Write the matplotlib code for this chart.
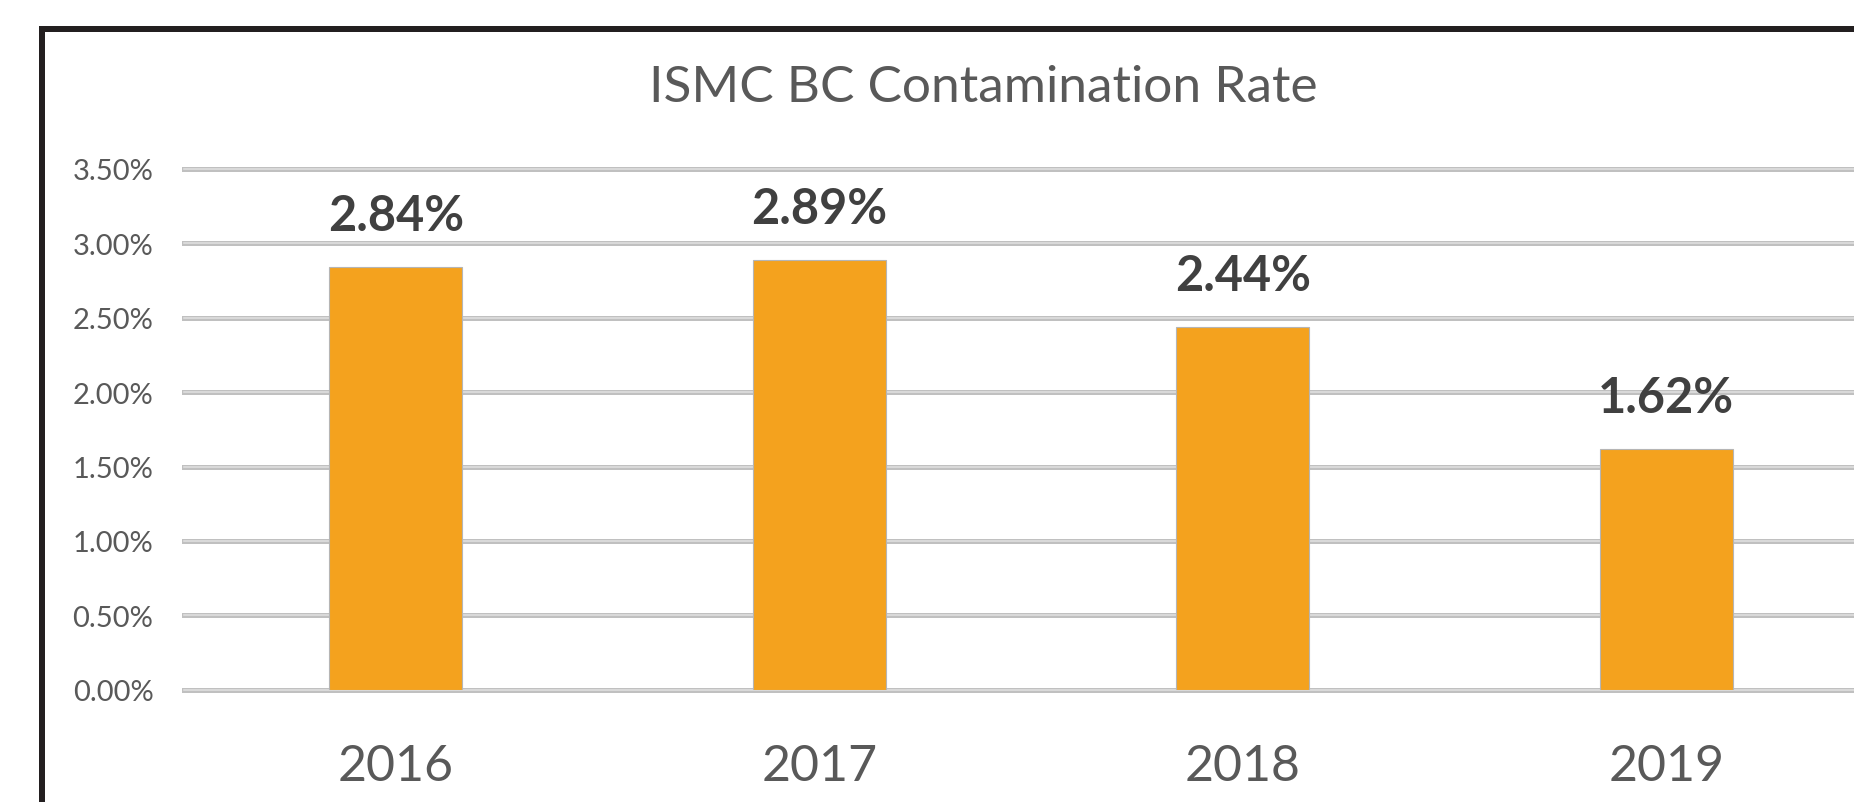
import matplotlib
matplotlib.use("Agg")
import matplotlib.pyplot as plt
from matplotlib.patches import Rectangle
from matplotlib.ticker import FuncFormatter
import numpy as np

# ---- data ----
years = ["2016", "2017", "2018", "2019"]
rates = [2.84, 2.89, 2.44, 1.62]
yticks = [0.0, 0.5, 1.0, 1.5, 2.0, 2.5, 3.0, 3.5]
title = "ISMC BC Contamination Rate"

W, H = 1854, 803
DPI = 100
fig = plt.figure(figsize=(W / DPI, H / DPI), dpi=DPI)
fig.patch.set_facecolor("white")

FONT = "Lato"
plt.rcParams["font.family"] = [FONT, "DejaVu Sans"]

# chart frame (extends beyond right and bottom edges)
frame = Rectangle((42 / W, -0.2), 1.5, (H - 30) / H + 0.2, transform=fig.transFigure,
                  fill=False, edgecolor="#231f20", linewidth=6 * 0.72, zorder=0)
fig.patches.append(frame)

# axes placement (px)
left_px, right_px = 184, 184 + 4 * 423.5
bottom_px, top_px = 690.7, 170
ax = fig.add_axes([left_px / W, (H - bottom_px) / H,
                   (right_px - left_px) / W, (bottom_px - top_px) / H])
ax.set_facecolor("none")

x = np.arange(len(years))
ax.set_xlim(-0.5, 3.5)
ax.set_ylim(0, 3.5)

# gridlines (double look)
for t in yticks:
    ax.axhline(t, color="#c0c0c0", linewidth=5 * 0.72, zorder=1, clip_on=False)
    ax.axhline(t, color="#e0e0e0", linewidth=1.6 * 0.72, zorder=1.1, clip_on=False)

bars = ax.bar(x, rates, width=0.314, color="#F4A21E", edgecolor="#b5b5b5",
              linewidth=0.8, zorder=2)

for xi, v in zip(x, rates):
    ax.annotate(f"{v:.2f}%", xy=(xi, v), xytext=(0, 37 * 0.72),
                textcoords="offset points", ha="center", va="baseline",
                fontsize=35, fontweight="bold", color="#404040", family=FONT)

ax.set_yticks(yticks)
ax.yaxis.set_major_formatter(FuncFormatter(lambda v, p: f"{v:.2f}%"))
ax.set_xticks(x, years)
ax.tick_params(axis="y", length=0, pad=22, labelsize=21, labelcolor="#595959")
ax.tick_params(axis="x", length=0, pad=65, labelsize=36, labelcolor="#595959")
for lab in ax.get_xticklabels():
    lab.set_verticalalignment("baseline")
    lab.set_family(FONT)
for lab in ax.get_yticklabels():
    lab.set_family(FONT)

for s in ax.spines.values():
    s.set_visible(False)

fig.text(983 / W, (H - 101.7) / H, title, ha="center", va="baseline",
         fontsize=37, color="#595959", family=FONT)

fig.savefig("out.png", dpi=DPI, facecolor="white")
